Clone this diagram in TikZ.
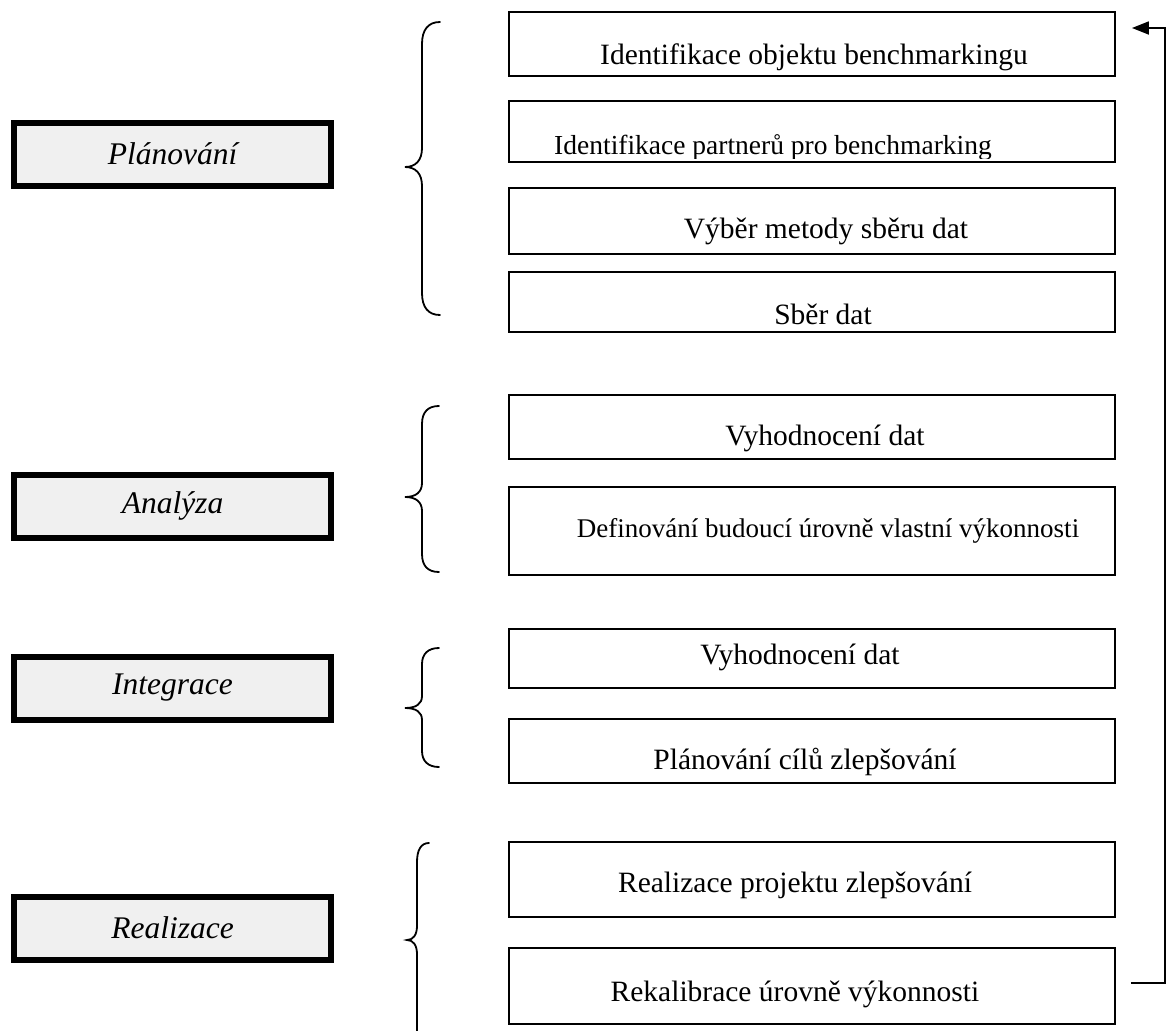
\documentclass[tikz,border=0pt]{standalone}
\usepackage{fontspec}
\setmainfont{Liberation Serif}
\usetikzlibrary{arrows.meta}
\definecolor{phasefill}{RGB}{240,240,240}
\begin{document}
\begin{tikzpicture}[x=1pt,y=-1pt,
  phasebox/.style={draw=black,line width=6pt,fill=phasefill,minimum width=317pt,minimum height=63pt,inner sep=0pt},
  phasetext/.style={font=\fontsize{31.5}{36}\selectfont\itshape},
  stepbox/.style={draw=black,line width=1.8pt,minimum width=606pt,inner sep=0pt},
  steptext/.style={font=\fontsize{29.5}{34}\selectfont,inner sep=0pt},
  smalltext/.style={font=\fontsize{27.5}{32}\selectfont,inner sep=0pt},
  brace/.style={line width=1.8pt,line cap=round}]
\useasboundingbox (0,0) rectangle (1168,1031);
\fill[white] (0,0) rectangle (1168,1031);

% phase boxes
\node[phasebox] (p1) at (172.5,154) {};
\node[phasetext] (pt1) at (p1.center) {Plánování};
\node[phasebox] (p2) at (172.5,506) {};
\node[phasetext] (pt2) at (p2.center) {Analýza};
\node[phasebox] (p3) at (172.5,688) {};
\node[phasetext] (pt3) at (p3.center) {Integrace};
\node[phasebox] (p4) at (172.5,928) {};
\node[phasetext] (pt4) at (p4.center) {Realizace};

% step boxes
\node[stepbox,minimum height=64pt] (b1) at (812,44) {};
\node[steptext] (t1) at (814,57) {Identifikace objektu benchmarkingu};
\node[stepbox,minimum height=61pt] (b2) at (812,131.5) {};
\begin{scope}
\clip (510,102) rectangle (1114,158);
\node[smalltext] (t2) at (773,148) {Identifikace partnerů pro benchmarking};
\end{scope}
\node[stepbox,minimum height=66pt] (b3) at (812,221) {};
\node[steptext] (t3) at (826,231) {Výběr metody sběru dat};
\node[stepbox,minimum height=60pt] (b4) at (812,302) {};
\node[steptext] (t4) at (823,314) {Sběr dat};
\node[stepbox,minimum height=64pt] (b5) at (812,427) {};
\node[steptext] (t5) at (825,438) {Vyhodnocení dat};
\node[stepbox,minimum height=88pt] (b6) at (812,531) {};
\node[smalltext,font=\fontsize{27}{32}\selectfont] (t6) at (828,531) {Definování budoucí úrovně vlastní výkonnosti};
\node[stepbox,minimum height=59pt] (b7) at (812,658.5) {};
\node[steptext] (t7) at (800,657) {Vyhodnocení dat};
\node[stepbox,minimum height=64pt] (b8) at (812,751) {};
\node[steptext] (t8) at (805,762) {Plánování cílů zlepšování};
\node[stepbox,minimum height=75pt] (b9) at (812,879.5) {};
\node[steptext] (t9) at (795,885) {Realizace projektu zlepšování};
\node[stepbox,minimum height=76pt] (b10) at (812,986) {};
\node[steptext] (t10) at (795,994) {Rekalibrace úrovně výkonnosti};

% braces
\draw[brace] (440,22) .. controls (428,22) and (422,30) .. (422,44) -- (422,148)
  .. controls (422,160) and (416,167) .. (405,167)
  .. controls (416,167) and (422,174) .. (422,186) -- (422,293)
  .. controls (422,307) and (428,315) .. (440,315);
\draw[brace] (439,406) .. controls (428,406) and (422,412) .. (422,424) -- (422,483)
  .. controls (422,492) and (416,497) .. (405,497)
  .. controls (416,497) and (422,502) .. (422,511) -- (422,554)
  .. controls (422,566) and (428,572) .. (439,572);
\draw[brace] (439,648) .. controls (428,648) and (422,654) .. (422,664) -- (422,696)
  .. controls (422,704) and (416,708) .. (405,708)
  .. controls (416,708) and (422,712) .. (422,720) -- (422,751)
  .. controls (422,761) and (428,767) .. (439,767);
\draw[brace] (429,843) .. controls (421,843) and (417,850) .. (417,862) -- (417,926)
  .. controls (417,935) and (413,940) .. (407,940)
  .. controls (413,940) and (417,945) .. (417,954) -- (417,1040);

% feedback arrow
\coordinate (fbstart) at ([xshift=15pt]b10.east |- 0,983);
\coordinate (fbend) at ([xshift=16pt]b1.east |- 0,28);
\draw[line width=1.8pt,-{Triangle[length=17pt,width=13pt]}] (fbstart) -- (1165,983) -- (1165,28) -- (fbend);
\end{tikzpicture}
\end{document}
